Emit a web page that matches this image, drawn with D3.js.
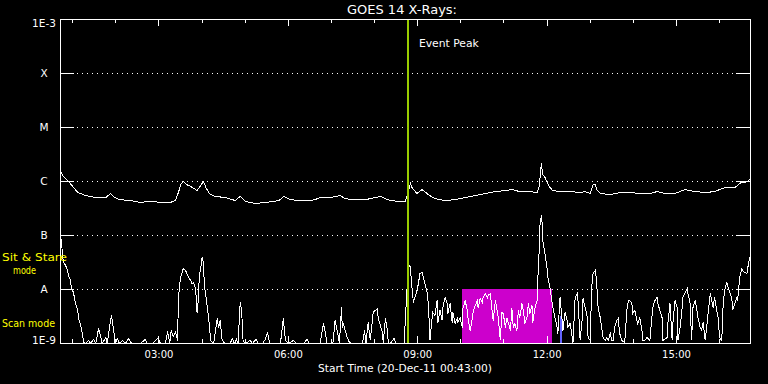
<!DOCTYPE html>
<html><head><meta charset="utf-8">
<script src="https://cdn.jsdelivr.net/npm/d3@7"></script>
<style>html,body{margin:0;padding:0;background:#000;}svg{display:block;}</style>
</head><body>
<svg id="chart" width="768" height="384"></svg>
<script>
// ---- data ----
const titleText = "GOES 14 X-Rays:";
const xTitle = "Start Time (20-Dec-11 00:43:00)";
const startTime = "2011-12-20T00:43:00Z";
const spanHours = 16;
const levelValues = [1e-3, 1e-4, 1e-5, 1e-6, 1e-7, 1e-8, 1e-9];
const levelLabels = ["1E-3", "X", "M", "C", "B", "A", "1E-9"];
const gridLevels = [1e-4, 1e-5, 1e-6, 1e-7, 1e-8];
const eventPeak = "2011-12-20T08:47:00Z";
const eventLabel = "Event Peak";
const scanWindow = ["2011-12-20T10:02:00Z", "2011-12-20T12:07:00Z"];
const scanRange = [1e-9, 1e-8];
const blueWindow = ["2011-12-20T12:18:00Z", "2011-12-20T12:22:00Z"];
const blueRange = [1e-9, 3.2e-9];
const modeLabels = ["Sit & Stare", "mode", "Scan mode"];
// [minutes after start, flux in nW/m^2]
const longChannel = [[0,1530],[4,1240],[10,1040],[17,810],[24,625],[35,550],[49,505],[63,505],[70,600],[75,505],[83,460],[97,445],[111,410],[125,430],[139,410],[153,410],[160,445],[164,625],[168,920],[171,1000],[175,880],[181,810],[186,740],[190,680],[196,880],[199,1000],[203,740],[207,600],[215,530],[229,505],[243,445],[250,530],[257,430],[271,390],[285,410],[299,430],[306,460],[310,530],[320,460],[334,445],[348,445],[354,460],[361,505],[375,505],[389,550],[396,480],[410,460],[424,460],[438,505],[445,530],[452,480],[459,445],[468,430],[480,430],[484,680],[487,920],[489,770],[496,600],[503,710],[512,570],[521,480],[535,445],[549,460],[563,505],[577,550],[591,600],[605,650],[619,680],[628,710],[639,650],[653,650],[663,625],[666,810],[669,2150],[671,1350],[674,1190],[677,960],[681,770],[685,680],[695,650],[709,650],[723,625],[730,650],[737,600],[741,880],[744,880],[746,710],[751,600],[765,570],[778,625],[792,625],[806,600],[820,600],[830,650],[841,600],[855,600],[869,710],[883,650],[897,625],[910,650],[924,770],[938,770],[947,960],[952,960],[956,1000],[959,1090]];
const shortChannel = [[0,96],[1,81],[4,32],[7,28],[10,22.5],[11,18.2],[14,14.7],[15,10.9],[18,8.8],[21,5.5],[24,4.1],[25,3.0],[28,2.15],[31,1.4],[32,1.04],[35,1],[39,1.14],[42,1],[46,1.19],[49,1],[53,1.9],[56,1.35],[58,1],[63,1.29],[65,1],[70,2.9],[71,3.3],[74,1.74],[76,1],[79,1.24],[82,1],[86,1.14],[90,1],[95,1.24],[99,1],[111,1],[118,1.19],[121,1],[128,1],[132,1.14],[136,1.29],[139,1],[146,1],[149,1.67],[152,1],[154,1.74],[157,1.35],[160,1.6],[163,1.14],[164,7.1],[167,16.7],[170,22.5],[171,24.5],[174,22.5],[177,18.2],[181,14.7],[183,12.9],[185,13.5],[188,10.4],[190,3.75],[192,7.1],[193,16.7],[196,30.3],[197,39.1],[199,30.3],[200,12.9],[203,6.25],[206,3.0],[209,1.14],[213,1],[218,2.9],[220,1.98],[222,2.67],[225,1.14],[229,1],[236,1],[239,1.24],[242,1],[245,1.19],[247,1],[250,5.74],[252,4.1],[254,1.14],[257,1],[264,1.14],[267,1],[272,1.19],[275,1],[281,1],[285,1.19],[288,1.6],[291,1],[299,1],[306,1],[310,2.9],[313,1.14],[317,1],[324,1.14],[328,1],[334,1],[338,1],[343,1.19],[346,1],[354,1],[361,1],[366,2.35],[368,1.74],[371,1],[375,1],[379,1],[382,2.67],[385,1.74],[388,1],[391,4.64],[392,1.98],[393,2.45],[396,1.74],[399,1.29],[402,1.04],[406,1],[414,1],[420,1],[423,1.74],[425,1],[428,2.45],[431,1.14],[435,3.75],[438,4.1],[441,4.45],[442,3.0],[445,2.15],[448,1.6],[449,1],[452,2.9],[455,1.74],[456,1.04],[459,1],[464,1.24],[467,1],[473,1],[478,1],[482,9.58],[484,30.3],[487,25.5],[488,14.7],[491,5.74],[493,7.1],[496,9.58],[498,12.9],[500,19.8],[503,20.7],[505,16.7],[507,12.9],[510,8.8],[512,5.05],[514,1.14],[517,3.0],[518,3.75],[521,3.3],[524,6.25],[525,2.35],[528,4.1],[531,2.67],[532,4.64],[535,7.1],[538,5.5],[539,3.59],[542,5.5],[545,2.45],[546,3.75],[549,2.35],[552,2.9],[553,2.45],[556,3.0],[559,1.98],[560,4.45],[563,6.25],[566,4.1],[567,3.0],[570,1.74],[573,3.0],[574,3.75],[577,5.05],[580,6.25],[581,4.64],[584,6.81],[587,5.74],[588,7.1],[591,8.43],[594,7.1],[595,7.74],[598,8.43],[600,4.64],[602,2.67],[605,6.25],[607,4.45],[609,3.0],[612,1.14],[614,3.75],[616,3.59],[619,1.98],[621,3.0],[623,2.45],[626,1.74],[628,4.45],[630,1.98],[632,2.35],[635,1.74],[637,4.1],[639,3.0],[642,5.5],[644,4.1],[646,2.35],[649,3.0],[651,5.5],[653,3.59],[656,5.05],[657,2.45],[660,4.45],[663,6.25],[664,14.7],[666,52.7],[667,153],[669,235],[670,174],[671,81],[674,46.4],[677,24.5],[678,16.7],[681,10.9],[684,5.74],[685,4.64],[688,3.0],[691,1.98],[692,1.53],[695,7.1],[698,2.67],[699,1.74],[702,3.75],[705,2.67],[706,1.98],[709,2.35],[712,1.29],[713,1.04],[716,7.1],[719,8.43],[720,6.25],[723,1.14],[726,3.0],[727,6.81],[730,4.64],[733,3.0],[734,1.29],[737,1.14],[739,10.9],[741,19.8],[742,20.7],[744,22.5],[745,18.2],[746,12.9],[748,4.64],[751,3.0],[753,1.98],[755,1.29],[758,1.14],[760,1.29],[762,1.14],[765,1.53],[767,1.14],[769,1.14],[771,1.98],[774,2.67],[776,2.9],[778,1.53],[781,1.14],[785,1.04],[788,4.1],[790,6.25],[792,6.25],[795,5.5],[796,3.59],[799,4.1],[802,2.67],[803,2.35],[806,3.0],[809,1.74],[810,1.14],[813,1.14],[816,1.29],[820,1.14],[824,4.64],[827,6.25],[830,7.1],[831,5.5],[834,4.1],[837,3.0],[838,1.14],[844,1.29],[845,2.35],[848,5.5],[851,1.14],[852,2.35],[855,6.25],[858,4.64],[859,1.14],[862,1.98],[865,4.64],[866,7.1],[869,8.8],[872,10.4],[873,8.43],[876,5.5],[878,1.14],[880,4.64],[883,6.25],[885,4.64],[887,3.0],[890,1.98],[892,1.74],[894,2.45],[897,1.14],[899,1.98],[901,3.59],[904,8.43],[906,6.25],[908,4.64],[910,7.1],[913,4.1],[915,3.0],[917,1.29],[920,1.14],[922,5.5],[924,9.58],[927,13.5],[929,10.9],[931,8.8],[934,7.1],[935,4.1],[938,5.5],[941,7.1],[942,6.25],[945,16.7],[948,24.5],[949,22.5],[952,20.7],[955,19.8],[956,24.5],[959,39.1]];

// ---- drawing ----
const W = 768, H = 384;
const L = 60, R = 750, T = 19, B = 343;
const FONT = "DejaVu Sans, sans-serif";
const svg = d3.select("#chart");
svg.append("rect").attr("width", W).attr("height", H).attr("fill", "#000");

const t0 = new Date(startTime);
const t1 = d3.utcHour.offset(t0, spanHours);
const x = d3.scaleUtc().domain([t0, t1]).range([L, R]);
const y = d3.scaleLog().domain([1e-9, 1e-3]).range([B, T]).clamp(true);
const tm = m => d3.utcMinute.offset(t0, m);
const NW = 1e-9;

// grid lines (dotted)
svg.append("g").selectAll("line").data(gridLevels).join("line")
  .attr("x1", L + 17).attr("x2", R - 13)
  .attr("y1", d => Math.round(y(d)) + 0.5).attr("y2", d => Math.round(y(d)) + 0.5)
  .attr("stroke", "#fff").attr("stroke-width", 1)
  .attr("stroke-dasharray", "1,4").attr("shape-rendering", "crispEdges");

// scan-mode window
svg.append("rect")
  .attr("x", x(new Date(scanWindow[0]))).attr("y", y(scanRange[1]))
  .attr("width", x(new Date(scanWindow[1])) - x(new Date(scanWindow[0])))
  .attr("height", y(scanRange[0]) - y(scanRange[1]))
  .attr("fill", "#cc00cc").attr("shape-rendering", "crispEdges");
svg.append("rect")
  .attr("x", x(new Date(blueWindow[0]))).attr("y", y(blueRange[1]))
  .attr("width", x(new Date(blueWindow[1])) - x(new Date(blueWindow[0])))
  .attr("height", y(blueRange[0]) - y(blueRange[1]))
  .attr("fill", "#6464ff").attr("shape-rendering", "crispEdges");

// data lines
const line = d3.line().x(d => x(tm(d[0]))).y(d => y(d[1] * NW));
const lg = svg.append("g").attr("transform", "translate(0.5,0.5)");
[longChannel, shortChannel].forEach(s => {
  lg.append("path").datum(s).attr("d", line)
    .attr("fill", "none").attr("stroke", "#fff").attr("stroke-width", 1)
    .attr("shape-rendering", "crispEdges");
});

// event peak
const xe = x(new Date(eventPeak));
svg.append("line").attr("x1", xe).attr("x2", xe).attr("y1", T).attr("y2", B)
  .attr("stroke", "#99cc00").attr("stroke-width", 2).attr("shape-rendering", "crispEdges");
svg.append("text").attr("x", xe + 11).attr("y", 47).text(eventLabel)
  .attr("fill", "#fff").attr("font-family", FONT).attr("font-size", 11)
  .attr("textLength", 60).attr("lengthAdjust", "spacingAndGlyphs");

// axes
const hours = d3.utcHour.range(d3.utcHour.ceil(t0), t1);
const majors = hours.filter(h => h.getUTCHours() % 3 === 0);
const minors = hours.filter(h => h.getUTCHours() % 3 !== 0);
function styleAxis(g) {
  g.select(".domain").remove();
  g.selectAll("line").attr("stroke", "#fff").attr("shape-rendering", "crispEdges");
  g.selectAll("text").attr("fill", "#fff").attr("font-family", FONT);
}
svg.append("g").attr("transform", `translate(0,${T})`)
  .call(d3.axisTop(x).tickValues(minors).tickSize(-4).tickFormat("")).call(styleAxis);
svg.append("g").attr("transform", `translate(0,${T})`)
  .call(d3.axisTop(x).tickValues(majors).tickSize(-7).tickFormat("")).call(styleAxis);
svg.append("g").attr("transform", `translate(0,${B})`)
  .call(d3.axisBottom(x).tickValues(minors).tickSize(-4).tickFormat("")).call(styleAxis);
svg.append("g").attr("transform", `translate(0,${B})`)
  .call(d3.axisBottom(x).tickValues(majors).tickSize(-7).tickPadding(8)
    .tickFormat(d3.utcFormat("%H:%M"))).call(styleAxis)
  .call(g => g.selectAll("text").attr("font-size", 10));

svg.append("g").attr("transform", `translate(${L},0)`)
  .call(d3.axisLeft(y).tickValues(levelValues).tickSize(-14).tickPadding(16)
    .tickFormat((d, i) => levelLabels[i])).call(styleAxis)
  .call(g => g.selectAll("text").attr("font-size", 10.5).attr("text-anchor", "middle")
    .attr("dy", (d, i) => i === 0 ? "0.7em" : (i === levelValues.length - 1 ? "0.05em" : "0.36em")));
svg.append("g").attr("transform", `translate(${R},0)`)
  .call(d3.axisRight(y).tickValues(levelValues).tickSize(-14).tickFormat("")).call(styleAxis);

// frame
svg.append("rect").attr("x", L + 0.5).attr("y", T + 0.5)
  .attr("width", R - L).attr("height", B - T)
  .attr("fill", "none").attr("stroke", "#fff").attr("stroke-width", 1)
  .attr("shape-rendering", "crispEdges");

// titles
svg.append("text").attr("x", 347).attr("y", 14).text(titleText)
  .attr("fill", "#fff").attr("font-family", FONT).attr("font-size", 13)
  .attr("textLength", 110).attr("lengthAdjust", "spacingAndGlyphs");
svg.append("text").attr("x", (L + R) / 2).attr("y", 372).attr("text-anchor", "middle").text(xTitle)
  .attr("fill", "#fff").attr("font-family", FONT).attr("font-size", 10.5)
  .attr("textLength", 174).attr("lengthAdjust", "spacingAndGlyphs");

// mode labels
const modePos = [[2, 261, 65], [13, 274, 23], [2, 327, 53]];
svg.append("g").selectAll("text").data(modeLabels).join("text")
  .attr("x", (d, i) => modePos[i][0]).attr("y", (d, i) => modePos[i][1])
  .attr("textLength", (d, i) => modePos[i][2]).attr("lengthAdjust", "spacingAndGlyphs")
  .text(d => d).attr("fill", "#ffff00").attr("font-family", FONT).attr("font-size", 10.5);
</script>
</body></html>
